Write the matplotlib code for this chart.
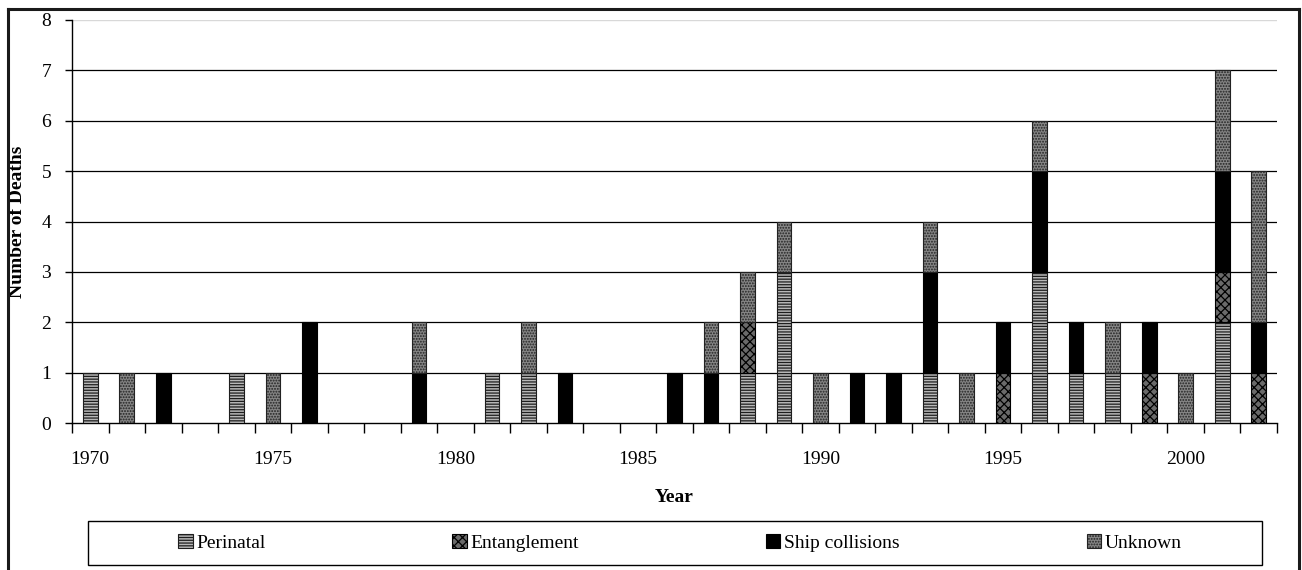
import matplotlib
matplotlib.use("Agg")
import matplotlib.pyplot as plt
from matplotlib.lines import Line2D
from matplotlib.patches import Rectangle
import numpy as np

years = list(range(1970, 2003))
perinatal =     [1,0,0,0,1,0,0,0,0,0,0,1,1,0,0,0,0,0,1,3,0,0,0,1,0,0,3,1,1,0,0,2,0]
entanglement =  [0,0,0,0,0,0,0,0,0,0,0,0,0,0,0,0,0,0,1,0,0,0,0,0,0,1,0,0,0,1,0,1,1]
ship =          [0,0,1,0,0,0,2,0,0,1,0,0,0,1,0,0,1,1,0,0,0,1,1,2,0,1,2,1,0,1,0,2,1]
unknown =       [0,1,0,0,0,1,0,0,0,1,0,0,1,0,0,0,0,1,1,1,1,0,0,1,1,0,1,0,1,0,1,2,3]
series_names = ["Perinatal", "Entanglement", "Ship collisions", "Unknown"]
tick_years = [1970, 1975, 1980, 1985, 1990, 1995, 2000]

plt.rcParams["font.family"] = ["Liberation Serif", "DejaVu Serif"]
plt.rcParams["hatch.linewidth"] = 0.9

W, H = 1302, 570
fig = plt.figure(figsize=(W/100, H/100), dpi=100)
ax = fig.add_axes([72/W, 1-423/H, (1277-72)/W, (423-20)/H])

styles = [
    dict(facecolor="#b8b8b8", hatch="------", edgecolor="#1e1e1e"),
    dict(facecolor="#6a6a6a", hatch="xxxx", edgecolor="#000000"),
    dict(facecolor="#000000", hatch=None, edgecolor="#000000"),
    dict(facecolor="#858585", hatch="......", edgecolor="#222222"),
]

x = np.arange(len(years))
bottom = np.zeros(len(years))
handles = []
for name, vals, st in zip(series_names, [perinatal, entanglement, ship, unknown], styles):
    vals = np.array(vals, dtype=float)
    mask = vals > 0
    bars = ax.bar(x[mask], vals[mask], bottom=bottom[mask], width=0.4,
                  linewidth=0.8, zorder=3, label=name, **st)
    handles.append(bars)
    bottom += vals

# axes styling
ax.set_xlim(-0.5, len(years) - 0.5)
ax.set_ylim(0, 8)
ax.set_yticks(range(0, 9))
for v in range(1, 8):
    ax.axhline(v, color="#000000", lw=0.9, zorder=1)
ax.axhline(8, color="#d8d8d8", lw=1.0, zorder=1)

ax.spines["top"].set_visible(False)
ax.spines["right"].set_visible(False)
ax.spines["left"].set_linewidth(1.0)
ax.spines["bottom"].set_linewidth(1.0)

fs = 14
ax.set_xticks([years.index(y) for y in tick_years])
ax.set_xticklabels([str(y) for y in tick_years])
ax.set_xticks(np.arange(-0.5, len(years)), minor=True)
ax.tick_params(axis="x", which="major", length=0, pad=20, labelsize=fs)
ax.tick_params(axis="x", which="minor", length=7, width=1.0, direction="out")
ax.tick_params(axis="y", length=5, width=1.0, direction="out", pad=10, labelsize=fs)

ax.set_xlabel("Year", fontweight="bold", fontsize=fs, va="top")
ax.xaxis.set_label_coords(0.5, (423-489)/403)
ax.set_ylabel("Number of Deaths", fontweight="bold", fontsize=fs)
ax.yaxis.set_label_coords((26-72)/1205, 0.5)

# legend box
fig.patches.append(Rectangle((88/W, 1-565/H), (1262-88)/W, (565-521)/H,
                             transform=fig.transFigure, fill=False,
                             edgecolor="#000000", lw=1.0))
fig.legend(handles=handles, loc="center", ncol=4, mode="expand", frameon=False,
           bbox_to_anchor=(178/W, 1-562/H, (1182-178)/W, (562-524)/H),
           borderaxespad=0, borderpad=0, fontsize=fs, handlelength=0.75,
           handleheight=0.75, handletextpad=0.2)

# outer frame (left, top, right)
fw = "#1a1a1a"
fig.add_artist(Line2D([8/W, 8/W], [0, 1-9/H], transform=fig.transFigure, color=fw, lw=2.2))
fig.add_artist(Line2D([8/W, 1299/W], [1-9/H, 1-9/H], transform=fig.transFigure, color=fw, lw=2.2))
fig.add_artist(Line2D([1299/W, 1299/W], [0, 1-9/H], transform=fig.transFigure, color=fw, lw=2.2))

fig.savefig("out.png", dpi=100)
